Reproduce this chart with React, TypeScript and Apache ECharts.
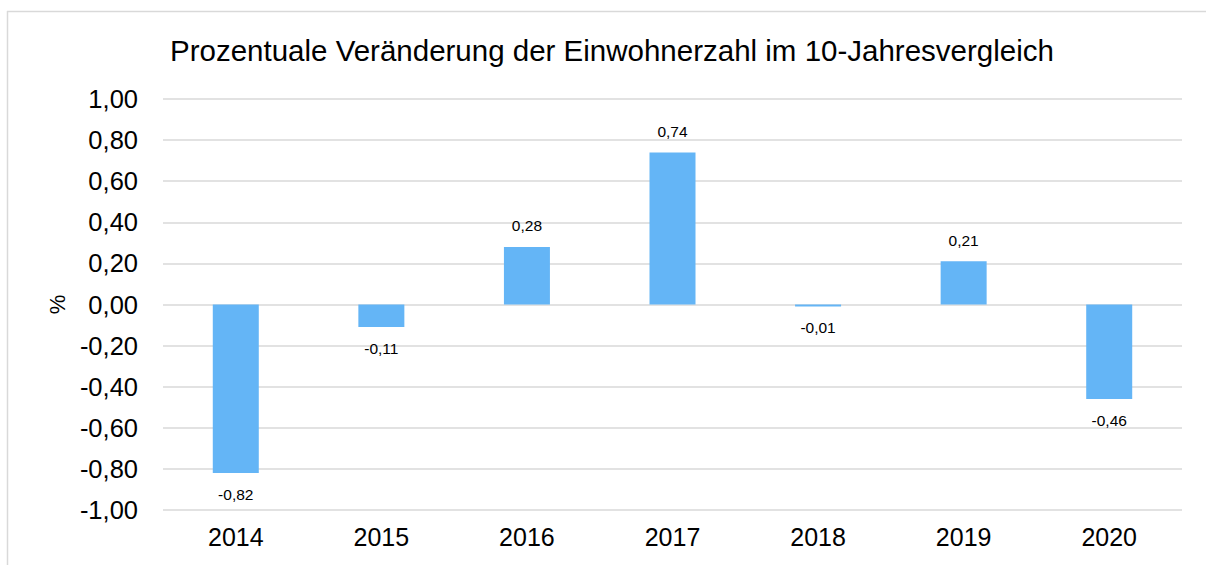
import React, { useEffect, useRef } from "react";
import * as echarts from "echarts";

const title = "Prozentuale Veränderung der Einwohnerzahl im 10-Jahresvergleich";
const years = ["2014", "2015", "2016", "2017", "2018", "2019", "2020"];
const changes = [-0.82, -0.11, 0.28, 0.74, -0.01, 0.21, -0.46];
const yAxisName = "%";

const fmt = (v: number) => v.toFixed(2).replace(".", ",");

export default function App() {
  const ref = useRef<HTMLDivElement>(null);
  useEffect(() => {
    if (!ref.current) return;
    const chart = echarts.init(ref.current, null, { renderer: "svg" });
    const font = "Liberation Sans, Arial, sans-serif";
    chart.setOption({
      animation: false,
      backgroundColor: "#ffffff",
      title: {
        text: title,
        left: 165,
        top: 30,
        textStyle: { fontFamily: font, fontSize: 29.5, fontWeight: "normal", color: "#000000" },
      },
      graphic: [
        { type: "line", shape: { x1: 7, y1: 11.5, x2: 1206, y2: 11.5 }, style: { stroke: "#d9d9d9", lineWidth: 1.5 } },
        { type: "line", shape: { x1: 7.5, y1: 11, x2: 7.5, y2: 565 }, style: { stroke: "#d9d9d9", lineWidth: 1.5 } },
      ],
      grid: { left: 163, right: 24, top: 99, bottom: 55, containLabel: false },
      xAxis: {
        type: "category",
        data: years,
        position: "bottom",
        axisLine: { show: false, onZero: false },
        axisTick: { show: false },
        axisLabel: { fontFamily: font, fontSize: 25, color: "#000000", margin: 14 },
      },
      yAxis: {
        type: "value",
        min: -1,
        max: 1,
        interval: 0.2,
        name: yAxisName,
        nameLocation: "middle",
        nameGap: 95,
        nameRotate: 90,
        nameTextStyle: { fontFamily: font, fontSize: 22, color: "#000000" },
        axisLine: { show: false },
        axisTick: { show: false },
        splitLine: { lineStyle: { color: "#d9d9d9", width: 1.5 } },
        axisLabel: {
          fontFamily: font,
          fontSize: 25.5,
          color: "#000000",
          margin: 25,
          formatter: (v: number) => fmt(v),
        },
      },
      series: [
        {
          type: "bar",
          barWidth: "31.6%",
          itemStyle: { color: "#64b5f6" },
          data: changes.map((v) => ({
            value: v,
            label: { position: v >= 0 ? "top" : "bottom" },
          })),
          label: {
            show: true,
            distance: 13,
            fontFamily: font,
            fontSize: 15.5,
            color: "#000000",
            formatter: (p: any) => fmt(p.value),
          },
        },
      ],
    });
    return () => chart.dispose();
  }, []);
  return (
    <div
      ref={ref}
      style={{ position: "absolute", left: 0, top: 0, width: 1206, height: 565 }}
    />
  );
}
